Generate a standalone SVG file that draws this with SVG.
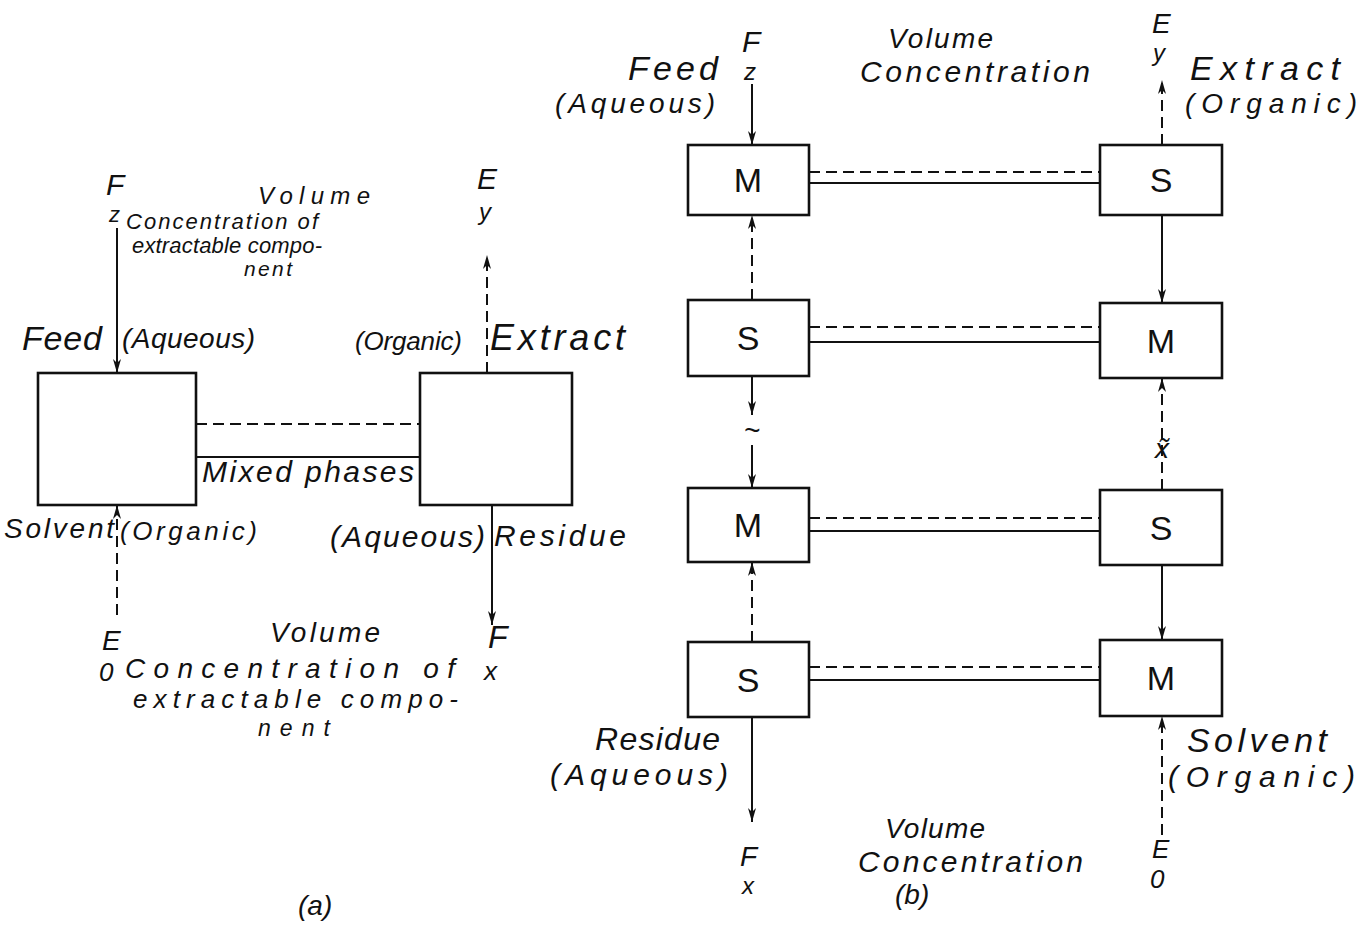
<svg xmlns="http://www.w3.org/2000/svg" width="1363" height="927" viewBox="0 0 1363 927">
<style>
.bx{fill:#fff;stroke:#111;stroke-width:2.6}
.ln{stroke:#111;stroke-width:2;fill:none}
.ds{stroke:#111;stroke-width:2;fill:none;stroke-dasharray:11 6}
.t{font-family:"Liberation Sans",Arial,sans-serif;font-style:italic;fill:#111}
.bl{font-family:"Liberation Sans",Arial,sans-serif;font-size:34px;fill:#111;text-anchor:middle}
</style>
<defs>
<marker id="ah" viewBox="0 0 14 10" refX="14" refY="5" markerWidth="14" markerHeight="10" markerUnits="userSpaceOnUse" orient="auto">
<path d="M0,1 L14,5 L0,9 L4,5 z" fill="#111"/>
</marker>
</defs>
<rect width="1363" height="927" fill="#fff"/>

<!-- (a) -->
<g id="a-mixer"><rect class="bx" x="38" y="373" width="158" height="132"/></g>
<g id="a-settler"><rect class="bx" x="420" y="373" width="152" height="132"/></g>

<g id="connectors">
<!-- (a) -->
<line class="ln" x1="117" y1="228" x2="117" y2="373" marker-end="url(#ah)"/>
<line class="ds" x1="487" y1="373" x2="487" y2="255" marker-end="url(#ah)"/>
<line class="ds" x1="117" y1="615" x2="117" y2="505" marker-end="url(#ah)"/>
<line class="ln" x1="492" y1="505" x2="492" y2="625" marker-end="url(#ah)"/>
<line class="ds" x1="196" y1="424" x2="420" y2="424"/>
<line class="ln" x1="196" y1="457" x2="420" y2="457"/>
<!-- (b) horizontal -->
<line class="ds" x1="809" y1="172" x2="1100" y2="172"/>
<line class="ln" x1="809" y1="183" x2="1100" y2="183"/>
<line class="ds" x1="809" y1="327" x2="1100" y2="327"/>
<line class="ln" x1="809" y1="342" x2="1100" y2="342"/>
<line class="ds" x1="809" y1="518" x2="1100" y2="518"/>
<line class="ln" x1="809" y1="531" x2="1100" y2="531"/>
<line class="ds" x1="809" y1="667" x2="1100" y2="667"/>
<line class="ln" x1="809" y1="680" x2="1100" y2="680"/>
<!-- (b) vertical left -->
<line class="ln" x1="752" y1="84" x2="752" y2="145" marker-end="url(#ah)"/>
<line class="ds" x1="752" y1="300" x2="752" y2="215" marker-end="url(#ah)"/>
<line class="ln" x1="752" y1="376" x2="752" y2="415" marker-end="url(#ah)"/>
<line class="ln" x1="752" y1="445" x2="752" y2="488" marker-end="url(#ah)"/>
<line class="ds" x1="752" y1="642" x2="752" y2="562" marker-end="url(#ah)"/>
<line class="ln" x1="752" y1="717" x2="752" y2="822" marker-end="url(#ah)"/>
<!-- (b) vertical right -->
<line class="ds" x1="1162" y1="145" x2="1162" y2="80" marker-end="url(#ah)"/>
<line class="ln" x1="1162" y1="215" x2="1162" y2="303" marker-end="url(#ah)"/>
<line class="ds" x1="1162" y1="490" x2="1162" y2="378" marker-end="url(#ah)"/>
<line class="ln" x1="1162" y1="565" x2="1162" y2="640" marker-end="url(#ah)"/>
<line class="ds" x1="1162" y1="835" x2="1162" y2="716" marker-end="url(#ah)"/>
</g>

<!-- (a) labels -->
<g id="a-labels">
<text class="t" x="106" y="195" font-size="30">F</text>
<text class="t" x="109" y="222" font-size="22">z</text>
<text class="t" x="258" y="204" font-size="24" textLength="112">Volume</text>
<text class="t" x="126" y="229" font-size="22" textLength="192">Concentration of</text>
<text class="t" x="132" y="253" font-size="22" textLength="190">extractable compo-</text>
<text class="t" x="244" y="276" font-size="21" textLength="48">nent</text>
<text class="t" x="477" y="189" font-size="30">E</text>
<text class="t" x="479" y="220" font-size="24">y</text>
<text class="t" x="22" y="350" font-size="34" textLength="80">Feed</text>
<text class="t" x="122" y="348" font-size="28" textLength="133">(Aqueous)</text>
<text class="t" x="355" y="350" font-size="26" textLength="107">(Organic)</text>
<text class="t" x="490" y="350" font-size="36" textLength="135">Extract</text>
<text class="t" x="202" y="482" font-size="30" textLength="212">Mixed phases</text>
<text class="t" x="4" y="538" font-size="28" textLength="110">Solvent</text>
<text class="t" x="120" y="540" font-size="26" textLength="137">(Organic)</text>
<text class="t" x="330" y="547" font-size="30" textLength="155">(Aqueous)</text>
<text class="t" x="494" y="546" font-size="30" textLength="132">Residue</text>
<text class="t" x="102" y="650" font-size="28">E</text>
<text class="t" x="99" y="681" font-size="26">0</text>
<text class="t" x="270" y="642" font-size="28" textLength="110">Volume</text>
<text class="t" x="125" y="678" font-size="28" textLength="330">Concentration of</text>
<text class="t" x="133" y="708" font-size="26" textLength="325">extractable compo-</text>
<text class="t" x="258" y="736" font-size="23" textLength="72">nent</text>
<text class="t" x="488" y="648" font-size="32">F</text>
<text class="t" x="484" y="680" font-size="26">x</text>
<text class="t" x="298" y="915" font-size="28">(a)</text>
</g>

<!-- (b) nodes -->
<g id="b-M1"><rect class="bx" x="688" y="145" width="121" height="70"/><text class="bl" x="748" y="192">M</text></g>
<g id="b-S1"><rect class="bx" x="1100" y="145" width="122" height="70"/><text class="bl" x="1161" y="192">S</text></g>
<g id="b-S2"><rect class="bx" x="688" y="300" width="121" height="76"/><text class="bl" x="748" y="350">S</text></g>
<g id="b-M2"><rect class="bx" x="1100" y="303" width="122" height="75"/><text class="bl" x="1161" y="353">M</text></g>
<g id="b-M3"><rect class="bx" x="688" y="488" width="121" height="74"/><text class="bl" x="748" y="537">M</text></g>
<g id="b-S3"><rect class="bx" x="1100" y="490" width="122" height="75"/><text class="bl" x="1161" y="540">S</text></g>
<g id="b-S4"><rect class="bx" x="688" y="642" width="121" height="75"/><text class="bl" x="748" y="692">S</text></g>
<g id="b-M4"><rect class="bx" x="1100" y="640" width="122" height="76"/><text class="bl" x="1161" y="690">M</text></g>

<!-- (b) labels -->
<g id="b-labels">
<text class="t" x="742" y="52" font-size="30">F</text>
<text class="t" x="744" y="80" font-size="24">z</text>
<text class="t" x="628" y="80" font-size="34" textLength="90">Feed</text>
<text class="t" x="555" y="113" font-size="28" textLength="160">(Aqueous)</text>
<text class="t" x="888" y="48" font-size="28" textLength="105">Volume</text>
<text class="t" x="860" y="82" font-size="30" textLength="230">Concentration</text>
<text class="t" x="1152" y="33" font-size="28">E</text>
<text class="t" x="1153" y="61" font-size="24">y</text>
<text class="t" x="1190" y="80" font-size="34" textLength="150">Extract</text>
<text class="t" x="1185" y="113" font-size="28" textLength="172">(Organic)</text>
<text class="t" x="752" y="440" font-size="28" text-anchor="middle">~</text>
<text class="t" x="1162" y="458" font-size="28" text-anchor="middle">x̃</text>
<text class="t" x="595" y="750" font-size="32" textLength="125">Residue</text>
<text class="t" x="550" y="785" font-size="30" textLength="178">(Aqueous)</text>
<text class="t" x="1187" y="752" font-size="34" textLength="140">Solvent</text>
<text class="t" x="1168" y="787" font-size="30" textLength="187">(Organic)</text>
<text class="t" x="740" y="866" font-size="28">F</text>
<text class="t" x="742" y="894" font-size="24">x</text>
<text class="t" x="885" y="838" font-size="28" textLength="100">Volume</text>
<text class="t" x="858" y="872" font-size="30" textLength="225">Concentration</text>
<text class="t" x="895" y="904" font-size="28">(b)</text>
<text class="t" x="1152" y="858" font-size="26">E</text>
<text class="t" x="1150" y="888" font-size="26">0</text>
</g>
</svg>
